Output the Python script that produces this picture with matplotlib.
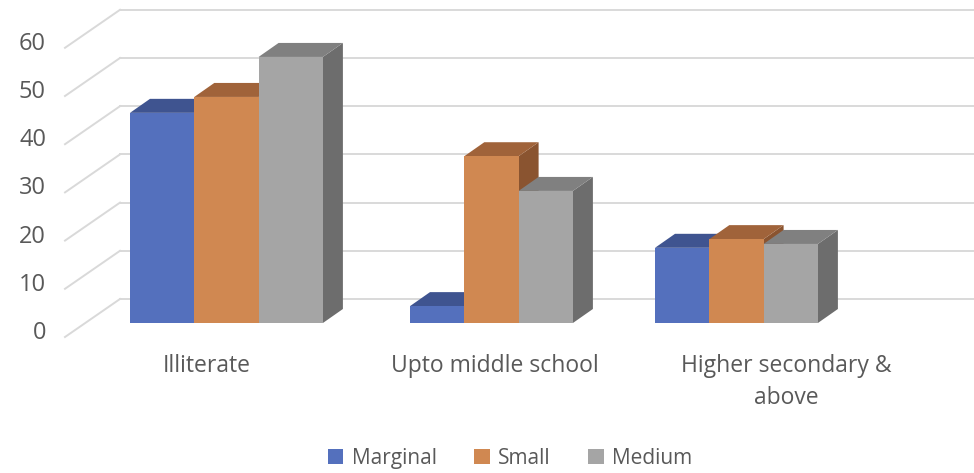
import matplotlib.pyplot as plt
from matplotlib.patches import Polygon, Patch

# data
categories = ["Illiterate", "Upto middle school", "Higher secondary &\nabove"]
series = ["Marginal", "Small", "Medium"]
marginal = [43.6, 3.5, 15.6]
small = [46.9, 34.6, 17.4]
medium = [55.2, 27.4, 16.4]
ticks = [0, 10, 20, 30, 40, 50, 60]

# colours: front, top, side
colors = {
    "Marginal": ("#5470bd", "#3f5490", "#34467a"),
    "Small": ("#d08851", "#a0633a", "#8a5430"),
    "Medium": ("#a5a5a5", "#808080", "#6d6d6d"),
}

# layout (x in pixels, y in value units)
W, H = 974, 473
ppu = 4.82          # pixels per value unit
base_px = 323       # pixel row of the bar bases
group_left = [130, 410, 655]
bar_w = [64.3, 54.3, 54.3]
depth_dx = 20
depth_dy = 14 / ppu
wall_x0, wall_dy = 120, 24 / ppu
side_dx, side_dy = -55, 38 / ppu
label_x = [207, 495, 786]

fig = plt.figure(figsize=(W / 100, H / 100), dpi=100)
ax = fig.add_axes([0, 0, 1, 1])
ax.set_xlim(0, W)
ax.set_ylim((base_px - H) / ppu, base_px / ppu)
ax.axis("off")

grid_c = "#d9d9d9"
for v in ticks:
    yb = v + wall_dy
    ax.plot([wall_x0, W], [yb, yb], color=grid_c, lw=1.4, zorder=1)
    ax.plot([wall_x0, wall_x0 + side_dx], [yb, yb - side_dy], color=grid_c, lw=1.4, zorder=1)
    ax.text(46, v - 10 / ppu, str(v), ha="right", va="center", fontsize=17,
            color="#595959", family="Open Sans")

values = {"Marginal": marginal, "Small": small, "Medium": medium}
z = 2
for g in range(len(categories)):
    for k, name in enumerate(series):
        v = values[name][g]
        x0 = group_left[g] + k * bar_w[g]
        x1 = x0 + bar_w[g]
        front, top, side = colors[name]
        ax.add_patch(Polygon([(x1, 0), (x1 + depth_dx, depth_dy), (x1 + depth_dx, v + depth_dy), (x1, v)],
                             closed=True, fc=side, ec="none", zorder=z))
        ax.add_patch(Polygon([(x0, v), (x0 + depth_dx, v + depth_dy), (x1 + depth_dx, v + depth_dy), (x1, v)],
                             closed=True, fc=top, ec="none", zorder=z))
        ax.add_patch(Polygon([(x0, 0), (x1, 0), (x1, v), (x0, v)],
                             closed=True, fc=front, ec="none", zorder=z + 1))
        z += 2

# category labels under the floor
for x, lab in zip(label_x, categories):
    ax.text(x, (base_px - 354) / ppu, lab, ha="center", va="top", fontsize=16.5,
            color="#595959", family="Open Sans", linespacing=1.45)

handles = [Patch(fc=colors[n][0], ec="none", label=n) for n in series]
ax.legend(handles=handles, loc="center", bbox_to_anchor=(510 / W, 1 - 458 / H), ncol=3,
          frameon=False, handlelength=0.75, handleheight=0.75, handletextpad=0.4,
          columnspacing=1.8, prop={"family": "Open Sans", "size": 15}, labelcolor="#595959")

fig.savefig("out.png", dpi=100)
